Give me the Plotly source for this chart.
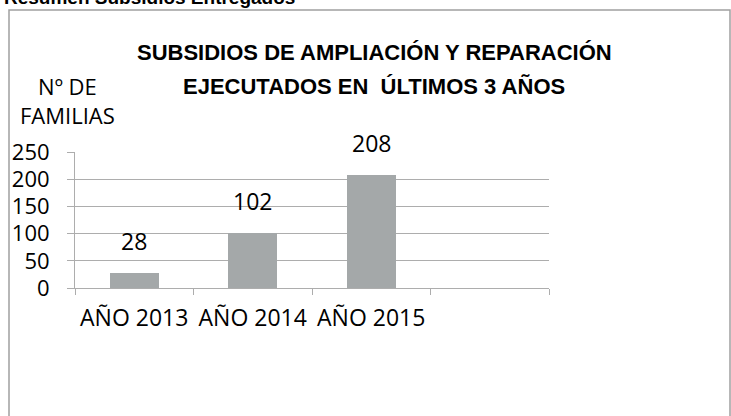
import plotly.graph_objects as go

categories = ["AÑO 2013", "AÑO 2014", "AÑO 2015"]
familias = [28, 102, 208]
y_ticks = [0, 50, 100, 150, 200, 250]
slot_count = 4  # Excel axis reserves one empty slot at the right

title_line1 = "SUBSIDIOS DE AMPLIACIÓN Y REPARACIÓN"
title_line2 = "EJECUTADOS EN\u00a0 ÚLTIMOS 3 AÑOS"
y_title_text = "Nº DE<br>FAMILIAS"
page_header = "Resumen Subsidios Entregados"

W, H = 731, 416
L, R, T, B = 75, 549, 152, 288   # plot area in pixels
pw, ph = R - L, B - T

def px(x):
    return (x - L) / pw

def py(y):
    return (B - y) / ph

FONT = "Open Sans, Calibri, Carlito, sans-serif"
TITLE_FONT = "Liberation Sans, Arial, sans-serif"
GRID = "#ADADAD"

xpos = list(range(len(categories)))

fig = go.Figure()
fig.add_trace(go.Bar(
    x=xpos, y=familias, width=0.41,
    marker=dict(color="#A4A8A9", line=dict(width=0)),
    hoverinfo="skip", showlegend=False,
))

for i, v in zip(xpos, familias):
    fig.add_annotation(x=i, y=v, xref="x", yref="y", text=str(v), showarrow=False,
                       yanchor="bottom", yshift=14,
                       font=dict(family=FONT, size=23, color="#000000"))

fig.update_layout(
    width=W, height=H,
    margin=dict(l=L, r=W - R, t=T, b=H - B, pad=0),
    paper_bgcolor="white", plot_bgcolor="white",
    bargap=0,
    xaxis=dict(
        range=[-0.5, slot_count - 0.5],
        tickvals=[k - 0.5 for k in range(slot_count + 1)],
        ticktext=["" for _ in range(slot_count + 1)],
        ticks="outside", ticklen=6, tickcolor=GRID, tickwidth=1,
        showline=True, linecolor=GRID, linewidth=1,
        showgrid=False, zeroline=False, fixedrange=True,
    ),
    xaxis2=dict(
        overlaying="x", matches="x", anchor="y", side="bottom",
        tickvals=xpos, ticktext=categories,
        ticks="", showline=False, showgrid=False, zeroline=False,
        ticklabelstandoff=14,
        tickfont=dict(family=FONT, size=23, color="#000000"),
    ),
    yaxis=dict(
        range=[0, 250], tickvals=y_ticks,
        ticks="outside", ticklen=7, tickcolor=GRID, tickwidth=1,
        showline=True, linecolor=GRID, linewidth=1,
        showgrid=True, gridcolor=GRID, gridwidth=1, zeroline=False,
        ticklabelstandoff=13,
        tickfont=dict(family=FONT, size=22, color="#000000"),
    ),
)

# invisible trace to activate xaxis2 labels
fig.add_trace(go.Scatter(x=xpos, y=[None] * len(xpos), xaxis="x2", yaxis="y",
                         mode="markers", showlegend=False, hoverinfo="skip"))

# title (two lines)
for txt, cy in ((title_line1, 52), (title_line2, 86)):
    fig.add_annotation(xref="paper", yref="paper", x=px(374), y=py(cy),
                       text="<b>" + txt + "</b>", showarrow=False,
                       xanchor="center", yanchor="middle", align="center",
                       font=dict(family=TITLE_FONT, size=22, color="#000000"))
# y axis title
fig.add_annotation(xref="paper", yref="paper", x=px(67), y=py(100),
                   text=y_title_text, showarrow=False,
                   xanchor="center", yanchor="middle", align="center",
                   font=dict(family=FONT, size=22, color="#000000"))
# page header (cut off at top)
fig.add_annotation(xref="paper", yref="paper", x=px(2), y=py(10),
                   text="<b>" + page_header + "</b>", showarrow=False,
                   xanchor="left", yanchor="bottom",
                   font=dict(family=TITLE_FONT, size=19, color="#000000"))
# chart border
fig.add_shape(type="rect", xref="paper", yref="paper",
              x0=px(9), x1=px(730), y0=py(440), y1=py(10),
              line=dict(color="#A0A0A0", width=1.5), fillcolor="rgba(0,0,0,0)", layer="below")

fig.write_html("out.html", config={"displayModeBar": False},
               post_script="document.body.style.margin='0';document.body.style.overflow='hidden';")
